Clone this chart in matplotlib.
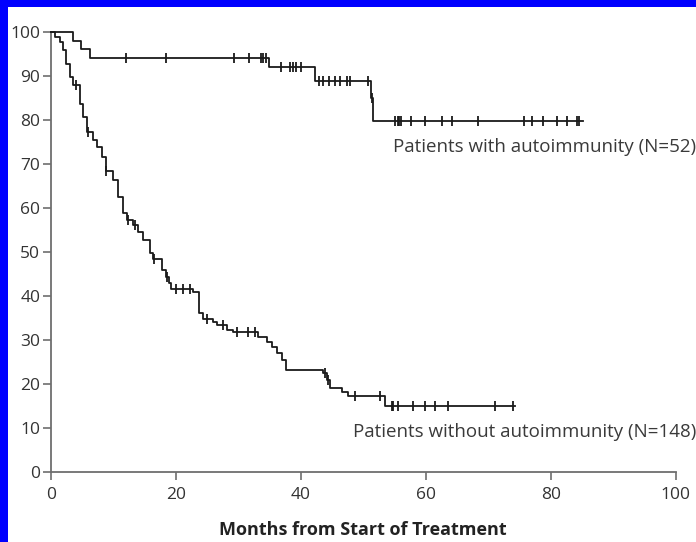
import numpy as np
import matplotlib
matplotlib.use("Agg")
import matplotlib.pyplot as plt
from matplotlib.patches import Rectangle

# ---- data ----
upper_times = [0, 3.6, 4.9, 6.3, 34.9, 42.3, 51.2, 51.5]
upper_surv = [100, 98.1, 96.2, 94.2, 92.0, 89.0, 85.0, 79.8]
upper_end = 85.2
upper_censor = [12.1, 18.4, 29.4, 31.8, 33.6, 34.0, 34.4, 36.8, 38.3, 38.8,
                39.3, 40.1, 42.9, 43.6, 44.6, 45.5, 46.3, 47.4, 47.9, 50.8,
                51.4, 55.1, 55.5, 55.8, 56.0, 57.6, 59.9, 62.6, 64.2, 68.4,
                75.7, 77.0, 78.8, 81.0, 82.6, 84.2, 84.6]

lower_times = [0, 0.7, 1.5, 2.0, 2.4, 3.1, 3.6, 4.7, 5.2, 5.8, 6.8, 7.4, 8.2,
               8.8, 10.0, 10.8, 11.6, 12.2, 13.2, 14.0, 14.8, 15.9, 16.3, 17.8,
               18.4, 18.9, 19.3, 22.8, 23.8, 24.4, 26.0, 26.6, 28.2, 29.2, 33.2,
               34.6, 35.4, 36.2, 37.0, 37.6, 43.6, 44.2, 44.7, 46.6, 47.6, 53.5]
lower_surv = [100, 98.9, 97.8, 95.9, 92.9, 89.8, 88.0, 83.8, 80.8, 77.3, 75.5,
              73.9, 71.7, 68.4, 66.4, 62.6, 58.8, 57.3, 56.1, 54.5, 52.7, 49.7,
              48.4, 45.9, 44.4, 42.9, 41.7, 41.0, 36.1, 34.9, 34.0, 33.4, 32.3,
              31.9, 30.8, 29.6, 28.5, 27.0, 25.5, 23.3, 22.4, 20.9, 19.0, 18.3,
              17.2, 14.9]
lower_end = 74.3
lower_censor = [4.0, 6.0, 8.9, 12.4, 13.5, 16.5, 18.6, 20.0, 21.2, 22.3, 25.0,
                27.5, 29.8, 31.5, 32.7, 43.9, 44.4, 48.7, 52.7, 54.6, 54.8,
                55.6, 58.0, 59.9, 61.5, 63.6, 71.1, 74.0]

label_upper = "Patients with autoimmunity (N=52)"
label_lower = "Patients without autoimmunity (N=148)"
x_ticks = [0, 20, 40, 60, 80, 100]
y_ticks = [0, 10, 20, 30, 40, 50, 60, 70, 80, 90, 100]
x_label = "Months from Start of Treatment"

plt.rcParams['font.family'] = ['Open Sans', 'DejaVu Sans']

fig = plt.figure(figsize=(6.96, 5.42), dpi=100)
fig.patch.set_facecolor('white')
# blue frame on top and left
fig.patches.append(Rectangle((0, 1 - 7 / 542), 1, 7 / 542, transform=fig.transFigure,
                             facecolor='#0000ff', edgecolor='none', zorder=10))
fig.patches.append(Rectangle((0, 0), 8 / 696, 1, transform=fig.transFigure,
                             facecolor='#0000ff', edgecolor='none', zorder=10))

ax = fig.add_axes([0.0728, 0.1292, 0.8980, 0.8112])
ax.set_xlim(0, 100)
ax.set_ylim(0, 100)

line_color = '#1a1a1a'


def draw_curve(times, surv, end, censor):
    t = np.array(list(times) + [end])
    s = np.array(list(surv) + [surv[-1]])
    ax.step(t, s, where='post', color=line_color, lw=1.3, clip_on=False, zorder=3)
    ti = np.array(times)
    si = np.array(surv)
    c = np.array(censor)
    idx = np.searchsorted(ti, c, side='right') - 1
    ax.plot(c, si[idx], linestyle='none', marker='|', ms=7, mew=1.3,
            color=line_color, clip_on=False, zorder=4)


draw_curve(upper_times, upper_surv, upper_end, upper_censor)
draw_curve(lower_times, lower_surv, lower_end, lower_censor)

text_color = '#3a3a3a'
ax.text(54.8, 72.8, label_upper, fontsize=13.5, color=text_color, ha='left',
        va='baseline', clip_on=False)
ax.text(48.4, 8.0, label_lower, fontsize=13.5, color=text_color, ha='left',
        va='baseline', clip_on=False)

spine_color = '#6e6e6e'
for side in ['top', 'right']:
    ax.spines[side].set_visible(False)
for side in ['left', 'bottom']:
    ax.spines[side].set_color(spine_color)
    ax.spines[side].set_linewidth(1.3)

ax.set_xticks(x_ticks)
ax.set_yticks(y_ticks)
ax.tick_params(axis='both', direction='out', length=6, width=1.2, color=spine_color,
               labelcolor='#333333', labelsize=12.5)
ax.tick_params(axis='y', pad=1.5)
ax.tick_params(axis='x', pad=5)

ax.set_xlabel(x_label, fontsize=13, fontweight='bold', color='#222222', labelpad=13)

fig.savefig('out.png', dpi=100)
